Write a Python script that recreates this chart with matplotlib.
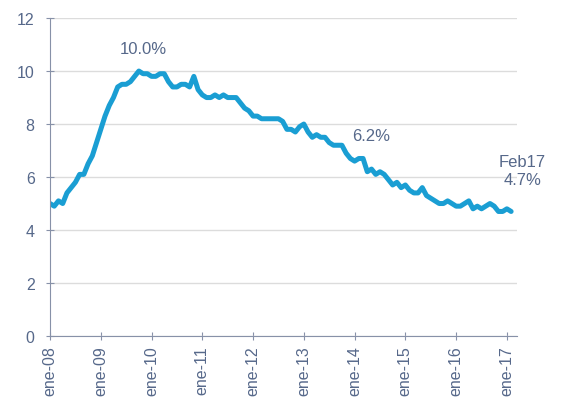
import matplotlib
matplotlib.use('Agg')
import matplotlib.pyplot as plt
import numpy as np

plt.rcParams['font.family'] = ['Liberation Sans', 'DejaVu Sans']

# monthly unemployment rate (%), ene-08 .. feb-17
rate = [5.0, 4.9, 5.1, 5.0, 5.4, 5.6, 5.8, 6.1, 6.1, 6.5, 6.8, 7.3,
        7.8, 8.3, 8.7, 9.0, 9.4, 9.5, 9.5, 9.6, 9.8, 10.0, 9.9, 9.9,
        9.8, 9.8, 9.9, 9.9, 9.6, 9.4, 9.4, 9.5, 9.5, 9.4, 9.8, 9.3,
        9.1, 9.0, 9.0, 9.1, 9.0, 9.1, 9.0, 9.0, 9.0, 8.8, 8.6, 8.5,
        8.3, 8.3, 8.2, 8.2, 8.2, 8.2, 8.2, 8.1, 7.8, 7.8, 7.7, 7.9,
        8.0, 7.7, 7.5, 7.6, 7.5, 7.5, 7.3, 7.2, 7.2, 7.2, 6.9, 6.7,
        6.6, 6.7, 6.7, 6.2, 6.3, 6.1, 6.2, 6.1, 5.9, 5.7, 5.8, 5.6,
        5.7, 5.5, 5.4, 5.4, 5.6, 5.3, 5.2, 5.1, 5.0, 5.0, 5.1, 5.0,
        4.9, 4.9, 5.0, 5.1, 4.8, 4.9, 4.8, 4.9, 5.0, 4.9, 4.7, 4.7,
        4.8, 4.7]
tick_labels = ['ene-08', 'ene-09', 'ene-10', 'ene-11', 'ene-12',
               'ene-13', 'ene-14', 'ene-15', 'ene-16', 'ene-17']

x = np.arange(len(rate))
txt = '#56688a'
axc = '#8791a8'

fig = plt.figure(figsize=(5.62, 4.06), dpi=100)
ax = fig.add_axes([0.089, 0.17, 0.831, 0.783])

ax.plot(x, rate, color='#1a9ed3', lw=3.6, solid_capstyle='round', solid_joinstyle='round')

ax.set_xlim(0, 110.4)
ax.set_ylim(0, 12)
ax.set_yticks(range(0, 13, 2))
ax.set_xticks(range(0, 109, 12))
ax.set_xticklabels(tick_labels, rotation=90)
ax.grid(axis='y', color='#dcdcdc', lw=1)
ax.set_axisbelow(True)
for s in ['top', 'right']:
    ax.spines[s].set_visible(False)
for s in ['left', 'bottom']:
    ax.spines[s].set_color(axc)
ax.tick_params(colors=axc, labelcolor=txt, labelsize=11.5, direction='inout', length=6)
ax.tick_params(axis='y', pad=8)

ax.text(22, 10.87, '10.0%', color=txt, fontsize=12, ha='center', va='center')
ax.text(76, 7.58, '6.2%', color=txt, fontsize=12, ha='center', va='center')
ax.text(111.6, 6.57, 'Feb17', color=txt, fontsize=12, ha='center', va='center', clip_on=False)
ax.text(111.6, 5.89, '4.7%', color=txt, fontsize=12, ha='center', va='center', clip_on=False)

fig.savefig('out.png', dpi=100)
